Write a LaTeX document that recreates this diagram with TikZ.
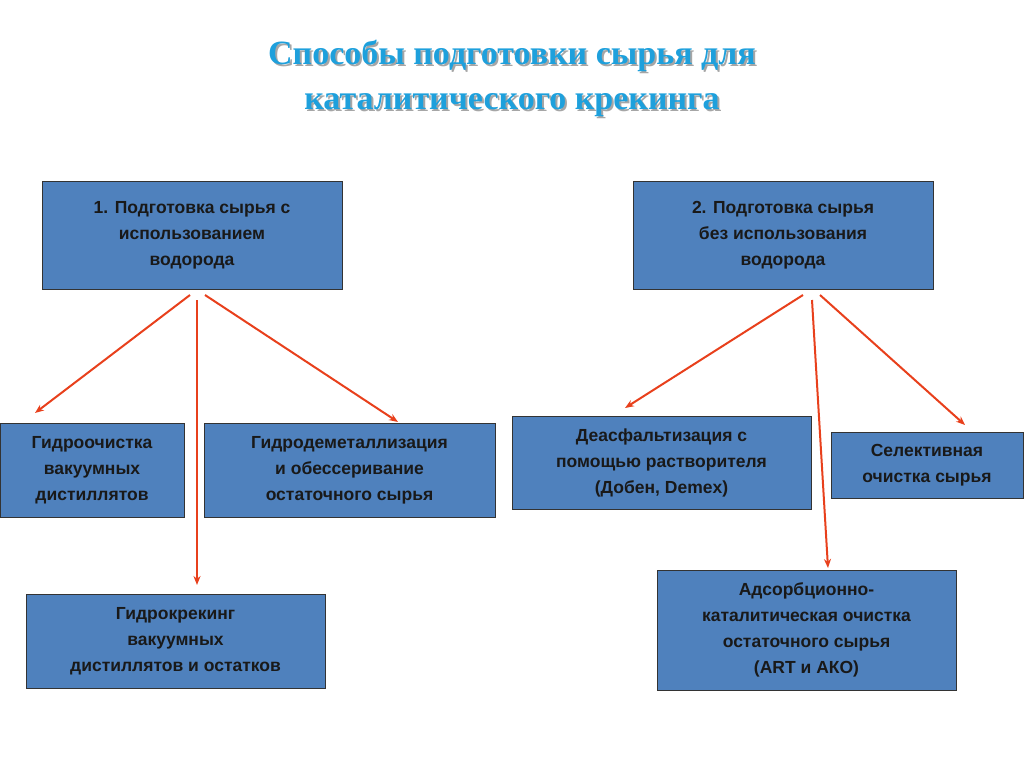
\documentclass[tikz,border=0pt]{standalone}
\usepackage{fontspec}
\usetikzlibrary{arrows.meta}
\setmainfont{Liberation Sans}
\newfontfamily\titlefont{Liberation Serif}
\begin{document}
\begin{tikzpicture}[x=1pt,y=-1pt,
  box/.style={draw=black!80,line width=0.8pt,fill={rgb,255:red,79;green,129;blue,189},align=center,font=\fontsize{17.5}{26}\selectfont\bfseries,text=black!90,inner sep=0pt},
  arr/.style={draw={rgb,255:red,232;green,64;blue,28},line width=2pt,-{Stealth[length=9pt,width=7pt]}}]
\useasboundingbox (0,0) rectangle (1024,767);
\definecolor{tc}{RGB}{30,160,220}
\foreach \o/\c in {2/gray!70,0/tc}{
\node[font=\titlefont\fontsize{34}{45}\selectfont\bfseries,text=\c,align=center] at (512+\o,78+\o) {Способы подготовки сырья для\\каталитического крекинга};}
\node[box,minimum width=300pt,minimum height=108pt] (b1) at (192,235) {1. Подготовка сырья с\\использованием\\водорода};
\node[box,minimum width=300pt,minimum height=108pt] (b2) at (783,235) {2. Подготовка сырья\\без  использования\\водорода};
\node[box,minimum width=184pt,minimum height=94pt] (c1) at (92,470) {Гидроочистка\\вакуумных\\дистиллятов};
\node[box,minimum width=291pt,minimum height=94pt] (c2) at (349.5,470) {Гидродеметаллизация\\и обессеривание\\остаточного сырья};
\node[box,minimum width=299pt,minimum height=94pt] (c3) at (175.5,641) {Гидрокрекинг\\вакуумных\\дистиллятов и остатков};
\node[box,minimum width=299pt,minimum height=93pt] (c4) at (661.5,462.5) {Деасфальтизация с\\помощью растворителя\\(Добен, Demex)};
\node[box,minimum width=192pt,minimum height=66pt] (c5) at (927,465) {Селективная\\очистка сырья};
\node[box,minimum width=299pt,minimum height=120pt] (c6) at (806.5,630) {Адсорбционно-\\каталитическая очистка\\остаточного сырья\\(ART и АКО)};
\coordinate (s1) at (190,295); \coordinate (s2) at (197,300); \coordinate (s3) at (205,295);
\coordinate (t1) at (35,413); \coordinate (t2) at (197,585); \coordinate (t3) at (398,422);
\coordinate (u1) at (803,295); \coordinate (u2) at (812,300); \coordinate (u3) at (820,295);
\coordinate (v1) at (625,408); \coordinate (v2) at (828,568); \coordinate (v3) at (965,425);
\draw[arr] (s1)--(t1); \draw[arr] (s2)--(t2); \draw[arr] (s3)--(t3);
\draw[arr] (u1)--(v1); \draw[arr] (u2)--(v2); \draw[arr] (u3)--(v3);
\end{tikzpicture}
\end{document}
